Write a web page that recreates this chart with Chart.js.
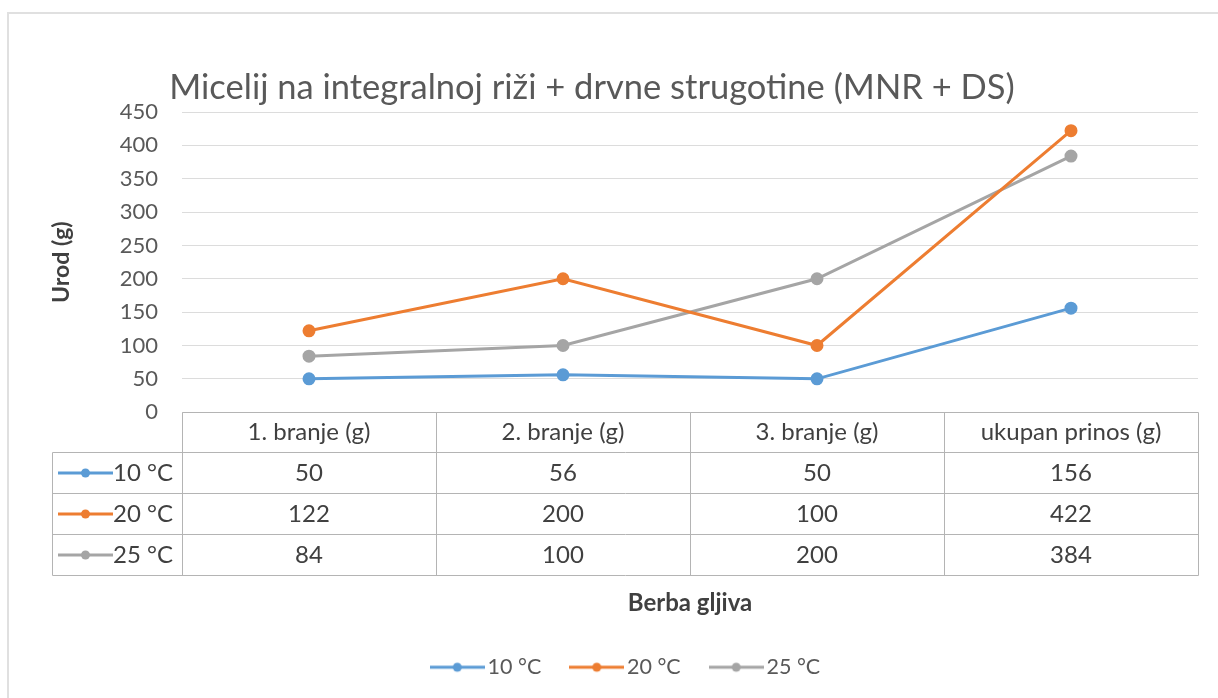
<!DOCTYPE html>
<html>
<head>
<meta charset="utf-8">
<script src="https://cdn.jsdelivr.net/npm/chart.js@4.4.1/dist/chart.umd.min.js"></script>
<style>
    html, body { margin: 0; padding: 0; background: #fff; overflow: hidden; }
    #frame { position: absolute; left: 7px; top: 12px; width: 1400px; height: 900px;
             border-left: 2px solid #e0e0e0; border-top: 2px solid #e0e0e0; }
    #wrap { position: absolute; left: 0; top: 0; width: 1218px; height: 698px; }
</style>
</head>
<body>
<div id="frame"></div>
<div id="wrap"><canvas id="myChart"></canvas></div>
<script>
// Chart data
const categories = ['1. branje (g)', '2. branje (g)', '3. branje (g)', 'ukupan prinos (g)'];
const seriesNames = ['10 °C', '20 °C', '25 °C'];
const values10 = [50, 56, 50, 156];
const values20 = [122, 200, 100, 422];
const values25 = [84, 100, 200, 384];
const yMin = 0, yMax = 450, yStep = 50;

const seriesColors = ['#5B9BD5', '#ED7D31', '#A5A5A5'];
const FONT = "Lato, 'Open Sans', sans-serif";

// small line + dot marker, used in the legend and in the table
function makeMarker(color) {
    const c = document.createElement('canvas');
    c.width = 55;
    c.height = 12;
    const g = c.getContext('2d');
    g.strokeStyle = color;
    g.lineWidth = 3;
    g.beginPath();
    g.moveTo(0, 6);
    g.lineTo(55, 6);
    g.stroke();
    g.fillStyle = color;
    g.beginPath();
    g.arc(27.5, 6, 4.5, 0, Math.PI * 2);
    g.fill();
    return c;
}
const markers = seriesColors.map(makeMarker);

// Data table drawn under the plot, aligned to the category scale
const dataTablePlugin = {
    id: 'dataTable',
    afterDraw(chart) {
        const { ctx, chartArea } = chart;
        const x = chart.scales.x;
        const rows = [values10, values20, values25];
        const cellW = (chartArea.right - chartArea.left) / categories.length;
        const top = Math.round(chartArea.bottom) + 0.5;
        const headH = 40, rowH = 41;
        const leftEdge = 52.5;
        const right = Math.round(chartArea.right) + 0.5;
        const bottom = top + headH + rowH * rows.length;

        ctx.save();
        ctx.strokeStyle = '#b4b4b4';
        ctx.lineWidth = 1;
        ctx.beginPath();
        ctx.moveTo(Math.round(chartArea.left) + 0.5, top);
        ctx.lineTo(right, top);
        for (let r = 0; r <= rows.length; r++) {
            const y = top + headH + rowH * r;
            ctx.moveTo(leftEdge, y);
            ctx.lineTo(right, y);
        }
        ctx.moveTo(leftEdge, top + headH);
        ctx.lineTo(leftEdge, bottom);
        for (let i = 0; i <= categories.length; i++) {
            const vx = Math.round(chartArea.left + cellW * i) + 0.5;
            ctx.moveTo(vx, top);
            ctx.lineTo(vx, bottom);
        }
        ctx.stroke();

        ctx.fillStyle = '#404040';
        ctx.font = `24px ${FONT}`;
        ctx.textAlign = 'center';
        ctx.textBaseline = 'middle';
        categories.forEach((cat, i) => {
            const cx = x.getPixelForValue(i);
            ctx.fillText(cat, cx, top + headH / 2);
            rows.forEach((vals, r) => {
                ctx.fillText(String(vals[i]), cx, top + headH + rowH * r + rowH / 2);
            });
        });

        ctx.textAlign = 'right';
        seriesNames.forEach((name, r) => {
            const cy = top + headH + rowH * r + rowH / 2;
            ctx.drawImage(markers[r], 58, Math.round(cy - 6));
            ctx.fillText(name, chartArea.left - 9, cy);
        });
        ctx.restore();
    }
};

// nudge title and legend sideways, like the original layout
const boxShiftPlugin = {
    id: 'boxShift',
    afterLayout(chart) {
        if (chart.titleBlock) {
            chart.titleBlock.left -= 7;
            chart.titleBlock.right -= 7;
        }
        if (chart.legend) {
            chart.legend.left += 30;
            chart.legend.right += 30;
        }
    }
};

function makeDataset(label, data, color) {
    return {
        label,
        data,
        borderColor: color,
        backgroundColor: color,
        borderWidth: 3,
        pointRadius: 5,
        pointBackgroundColor: color,
        pointBorderColor: color,
        tension: 0
    };
}

const ctx = document.getElementById('myChart').getContext('2d');
new Chart(ctx, {
    type: 'line',
    data: {
        labels: categories,
        datasets: [
            makeDataset(seriesNames[0], values10, seriesColors[0]),
            makeDataset(seriesNames[1], values20, seriesColors[1]),
            makeDataset(seriesNames[2], values25, seriesColors[2])
        ]
    },
    options: {
        responsive: true,
        maintainAspectRatio: false,
        animation: false,
        events: [],
        layout: { padding: { left: 0, right: 20, top: 0, bottom: 10 } },
        plugins: {
            title: {
                display: true,
                text: 'Micelij na integralnoj riži + drvne strugotine (MNR + DS)',
                color: '#595959',
                font: { family: FONT, size: 34.5, weight: 'normal' },
                padding: { top: 67, bottom: 3.6 }
            },
            legend: {
                position: 'bottom',
                labels: {
                    usePointStyle: true,
                    // marker image is wider than its box, so it sits close to the text
                    pointStyleWidth: 39,
                    padding: 36,
                    color: '#595959',
                    font: { family: FONT, size: 21.5 },
                    generateLabels: (chart) => chart.data.datasets.map((ds, i) => ({
                        text: ds.label,
                        pointStyle: markers[i],
                        fillStyle: ds.borderColor,
                        strokeStyle: ds.borderColor,
                        lineWidth: 0,
                        fontColor: '#595959',
                        datasetIndex: i,
                        hidden: false
                    }))
                }
            },
            tooltip: { enabled: false }
        },
        scales: {
            x: {
                offset: true,
                grid: { display: false },
                border: { display: false },
                ticks: { display: false },
                title: {
                    display: true,
                    text: 'Berba gljiva',
                    color: '#404040',
                    font: { family: FONT, size: 24, weight: 'bold' },
                    padding: { top: 169, bottom: 2.5 }
                }
            },
            y: {
                min: yMin,
                max: yMax,
                ticks: {
                    stepSize: yStep,
                    color: '#595959',
                    font: { family: FONT, size: 22 },
                    padding: 24
                },
                grid: { color: '#dcdcdc', drawTicks: false },
                border: { display: false },
                title: {
                    display: true,
                    text: 'Urod (g)',
                    color: '#404040',
                    font: { family: FONT, size: 23, weight: 'bold' },
                    padding: { top: 48, bottom: 0 }
                },
                afterFit(scale) { scale.width = 182; }
            }
        }
    },
    plugins: [dataTablePlugin, boxShiftPlugin]
});
</script>
</body>
</html>
